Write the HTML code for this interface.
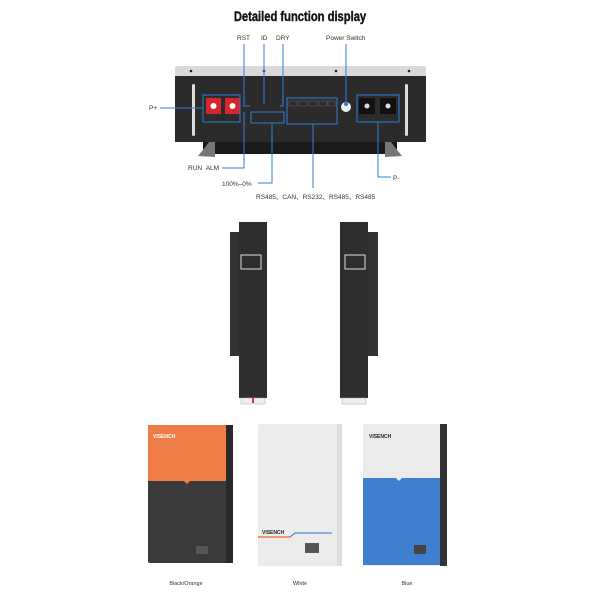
<!DOCTYPE html>
<html><head><meta charset="utf-8"><style>
html,body{margin:0;padding:0;background:#fff;}
body{width:600px;height:600px;overflow:hidden;position:relative;font-family:"Liberation Sans",sans-serif;}
</style></head><body>
<svg width="600" height="600" viewBox="0 0 600 600" xmlns="http://www.w3.org/2000/svg" font-family="Liberation Sans, sans-serif">
<text x="300" y="21" text-anchor="middle" font-size="14" font-weight="bold" fill="#111" stroke="#111" stroke-width="0.4" transform="translate(300 0) scale(0.8 1) translate(-300 0)">Detailed function display</text>
<!-- top device -->
<rect x="203" y="141" width="194" height="13" fill="#1a1a1a"/>
<polygon points="198,156 210,141 215,141 215,157" fill="#777"/>
<polygon points="402,156 390,141 385,141 385,157" fill="#777"/>
<rect x="175" y="66" width="251" height="11" rx="2" fill="#d9d9d9"/>
<rect x="175" y="76" width="251" height="66" fill="#2b2b2b"/>
<circle cx="191" cy="71" r="1.3" fill="#222"/><circle cx="264" cy="71" r="1.3" fill="#222"/><circle cx="336" cy="71" r="1.3" fill="#222"/><circle cx="409" cy="71" r="1.3" fill="#222"/>
<rect x="192" y="84" width="3" height="52" rx="1.5" fill="#ddd"/>
<rect x="405" y="84" width="3" height="52" rx="1.5" fill="#ddd"/>
<rect x="206" y="98" width="15" height="16" fill="#d7262e"/><rect x="225" y="98" width="15" height="16" fill="#d7262e"/>
<circle cx="213.5" cy="106" r="3" fill="#fff"/><circle cx="232.5" cy="106" r="3" fill="#fff"/>
<rect x="359" y="98" width="16" height="16" fill="#111"/><rect x="380" y="98" width="16" height="16" fill="#111"/>
<circle cx="367" cy="106" r="2.5" fill="#ddd"/><circle cx="388" cy="106" r="2.5" fill="#ddd"/>
<circle cx="346" cy="107" r="5" fill="#eee"/>
<g fill="none" stroke="#666" stroke-width="0.5">
<rect x="289" y="101" width="8" height="5"/><rect x="299" y="101" width="8" height="5"/><rect x="309" y="101" width="8" height="5"/><rect x="319" y="101" width="8" height="5"/><rect x="328" y="101" width="7" height="5"/>
</g>
<g fill="none" stroke="#2f7fd6" stroke-width="1">
<rect x="203" y="95" width="37" height="27"/>
<rect x="357" y="95" width="42" height="27"/>
<rect x="287" y="98" width="50" height="26"/>
<rect x="251" y="112" width="33" height="11"/>
<polyline points="244,44 244,106 250,106"/>
<line x1="264" y1="44" x2="264" y2="104"/>
<polyline points="283,44 283,106 280,106"/>
<line x1="346" y1="44" x2="346" y2="104"/>
<line x1="160" y1="108" x2="203" y2="108"/>
<polyline points="222,168 244,168 244,112"/>
<polyline points="258,183 272,183 272,123"/>
<line x1="313" y1="124" x2="313" y2="188"/>
<polyline points="378,122 378,177 391,177"/>
</g>
<circle cx="346" cy="104" r="2" fill="#2f7fd6"/>
<g font-size="6.5" fill="#333">
<text x="237" y="40">RST</text><text x="261" y="40">ID</text><text x="276" y="40">DRY</text>
<text x="326" y="40">Power Switch</text>
<text x="149" y="110">P+</text>
<text x="188" y="170">RUN&#160;&#160;ALM</text>
<text x="222" y="186">100%–0%</text>
<text x="256" y="199">RS485、CAN、RS232、RS485、RS485</text>
<text x="393" y="180">P-</text>
</g>
<!-- side views -->
<rect x="230" y="232" width="10" height="124" fill="#333"/>
<rect x="239" y="222" width="28" height="176" fill="#2e2e2e"/>
<rect x="241" y="255" width="20" height="14" fill="none" stroke="#ddd" stroke-width="1"/>
<rect x="241" y="398" width="24" height="6" fill="#eee" stroke="#aaa" stroke-width="0.5"/>
<rect x="252" y="398" width="2" height="5" fill="#d33"/>
<rect x="368" y="232" width="10" height="124" fill="#333"/>
<rect x="340" y="222" width="28" height="176" fill="#2e2e2e"/>
<rect x="345" y="255" width="20" height="14" fill="none" stroke="#ddd" stroke-width="1"/>
<rect x="342" y="398" width="24" height="6" fill="#eee" stroke="#aaa" stroke-width="0.5"/>
<!-- orange/black -->
<rect x="148" y="425" width="84" height="138" rx="2" fill="#3a3a3a"/>
<path d="M148,425 H226 V481 H190 L187,484 L184,481 H148 Z" fill="#ef7d48"/>
<rect x="226" y="425" width="7" height="138" fill="#2a2a2a"/>
<text x="153" y="438" font-size="5" font-weight="bold" fill="#fff">VISENCH</text>
<rect x="196" y="546" width="12" height="8" fill="#555"/>
<!-- white -->
<rect x="258" y="424" width="84" height="142" rx="2" fill="#ececec"/>
<rect x="337" y="424" width="5" height="142" fill="#ddd"/>
<text x="262" y="534" font-size="5" font-weight="bold" fill="#222">VISENCH</text>
<line x1="258" y1="537" x2="290" y2="537" stroke="#ef7d48" stroke-width="1.5"/>
<polyline points="290,537 295,533 332,533" fill="none" stroke="#2f6fcf" stroke-width="1"/>
<rect x="305" y="543" width="14" height="10" fill="#555"/>
<!-- blue -->
<rect x="363" y="424" width="84" height="142" rx="2" fill="#ebebeb"/>
<path d="M363,478 H396 L399,481 L402,478 H440 V565 H363 Z" fill="#3f7fd0"/>
<rect x="440" y="424" width="7" height="142" fill="#333"/>
<text x="369" y="438" font-size="5" font-weight="bold" fill="#222">VISENCH</text>
<rect x="414" y="545" width="12" height="9" fill="#444"/>
<g font-size="5.5" fill="#333" text-anchor="middle">
<text x="186" y="585">Black/Orange</text><text x="300" y="585">White</text><text x="407" y="585">Blue</text>
</g>
</svg>
</body></html>
